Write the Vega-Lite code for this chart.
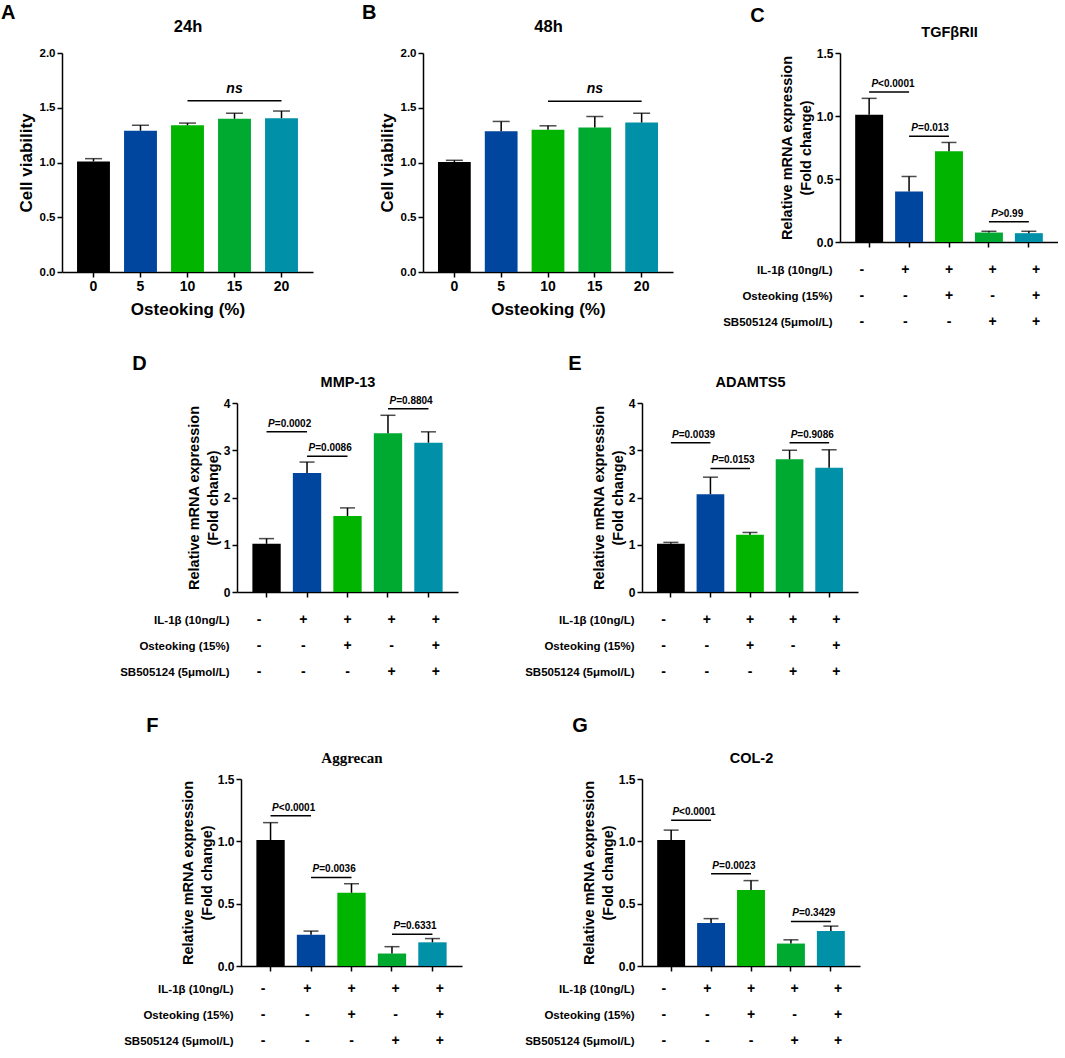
{
  "$schema": "https://vega.github.io/schema/vega-lite/v6.json",
  "background": "white",
  "padding": {"left": 1, "top": 2, "right": 0, "bottom": 0},
  "config": {
    "font": "Liberation Sans",
    "view": {"stroke": null},
    "axis": {"grid": false, "domainColor": "black", "domainWidth": 1.5, "tickColor": "black", "tickWidth": 1.5, "tickSize": 5, "labelColor": "black", "labelFont": "Liberation Sans", "labelFontWeight": "bold", "labelFontSize": 12, "titleFont": "Liberation Sans", "titleFontWeight": "bold", "titleColor": "black", "labelPadding": 2},
    "title": {"font": "Liberation Sans", "fontWeight": "bold", "color": "black", "fontSize": 20, "anchor": "start", "offset": 0}
  },
  "datasets": {
    "aBars": [{"i":0,"d":"0","v":1.01,"e":1.035},{"i":1,"d":"5","v":1.29,"e":1.34},{"i":2,"d":"10","v":1.34,"e":1.36},{"i":3,"d":"15","v":1.40,"e":1.45},{"i":4,"d":"20","v":1.405,"e":1.47}],
    "aSig": [{"from":2,"to":4,"mid":3,"v":1.565,"p":"ns"}],
    "bBars": [{"i":0,"d":"0","v":1.005,"e":1.02},{"i":1,"d":"5","v":1.285,"e":1.375},{"i":2,"d":"10","v":1.30,"e":1.335},{"i":3,"d":"15","v":1.32,"e":1.42},{"i":4,"d":"20","v":1.365,"e":1.45}],
    "bSig": [{"from":2,"to":4,"mid":3,"v":1.56,"p":"ns"}],
    "cBars": [{"i":0,"v":1.01,"e":1.14},{"i":1,"v":0.40,"e":0.52},{"i":2,"v":0.72,"e":0.79},{"i":3,"v":0.075,"e":0.085},{"i":4,"v":0.07,"e":0.085}],
    "cSig": [{"from":0,"to":1,"mid":0.5,"v":1.19,"p":"<0.0001"},{"from":1,"to":2,"mid":1.5,"v":0.84,"p":"=0.013"},{"from":3,"to":4,"mid":3.5,"v":0.16,"p":">0.99"}],
    "dBars": [{"i":0,"v":1.02,"e":1.13},{"i":1,"v":2.52,"e":2.75},{"i":2,"v":1.61,"e":1.78},{"i":3,"v":3.36,"e":3.74},{"i":4,"v":3.16,"e":3.39}],
    "dSig": [{"from":0,"to":1,"mid":0.5,"v":3.39,"p":"=0.0002"},{"from":1,"to":2,"mid":1.5,"v":2.875,"p":"=0.0086"},{"from":3,"to":4,"mid":3.5,"v":3.88,"p":"=0.8804"}],
    "eBars": [{"i":0,"v":1.02,"e":1.05},{"i":1,"v":2.07,"e":2.43},{"i":2,"v":1.21,"e":1.26},{"i":3,"v":2.81,"e":3.0},{"i":4,"v":2.63,"e":3.01}],
    "eSig": [{"from":0,"to":1,"mid":0.5,"v":3.16,"p":"=0.0039"},{"from":1,"to":2,"mid":1.5,"v":2.615,"p":"=0.0153"},{"from":3,"to":4,"mid":3.5,"v":3.16,"p":"=0.9086"}],
    "fBars": [{"i":0,"v":1.01,"e":1.15},{"i":1,"v":0.25,"e":0.28},{"i":2,"v":0.587,"e":0.66},{"i":3,"v":0.10,"e":0.155},{"i":4,"v":0.19,"e":0.22}],
    "fSig": [{"from":0,"to":1,"mid":0.5,"v":1.205,"p":"<0.0001"},{"from":1,"to":2,"mid":1.5,"v":0.71,"p":"=0.0036"},{"from":3,"to":4,"mid":3.5,"v":0.255,"p":"=0.6331"}],
    "gBars": [{"i":0,"v":1.01,"e":1.09},{"i":1,"v":0.345,"e":0.38},{"i":2,"v":0.61,"e":0.685},{"i":3,"v":0.18,"e":0.21},{"i":4,"v":0.28,"e":0.32}],
    "gSig": [{"from":0,"to":1,"mid":0.5,"v":1.17,"p":"<0.0001"},{"from":1,"to":2,"mid":1.5,"v":0.74,"p":"=0.0023"},{"from":3,"to":4,"mid":3.5,"v":0.357,"p":"=0.3429"}],
    "design": [
      {"f":"IL-1β (10ng/L)","i":0,"s":"-"},{"f":"IL-1β (10ng/L)","i":1,"s":"+"},{"f":"IL-1β (10ng/L)","i":2,"s":"+"},{"f":"IL-1β (10ng/L)","i":3,"s":"+"},{"f":"IL-1β (10ng/L)","i":4,"s":"+"},
      {"f":"Osteoking (15%)","i":0,"s":"-"},{"f":"Osteoking (15%)","i":1,"s":"-"},{"f":"Osteoking (15%)","i":2,"s":"+"},{"f":"Osteoking (15%)","i":3,"s":"-"},{"f":"Osteoking (15%)","i":4,"s":"+"},
      {"f":"SB505124 (5μmol/L)","i":0,"s":"-"},{"f":"SB505124 (5μmol/L)","i":1,"s":"-"},{"f":"SB505124 (5μmol/L)","i":2,"s":"-"},{"f":"SB505124 (5μmol/L)","i":3,"s":"+"},{"f":"SB505124 (5μmol/L)","i":4,"s":"+"}
    ]
  },
  "vconcat": [
    {
      "hconcat": [
        {
          "title": {"text": "A", "dx": -16, "offset": -4},
          "width": 251, "height": 219,
          "resolve": {"scale": {"x": "independent"}},
          "layer": [
            {
              "data": {"name": "aBars"},
              "layer": [
                {"mark": {"type": "bar"}, "encoding": {
                  "x": {"field": "d", "type": "nominal", "sort": null, "scale": {"paddingInner": 0.3, "paddingOuter": 0.32}, "axis": {"title": "Osteoking (%)", "titleFontSize": 17, "labelFontSize": 14, "labelAngle": 0, "labelPadding": 2, "titlePadding": 8}},
                  "y": {"field": "v", "type": "quantitative", "scale": {"domain": [0, 2], "nice": false}, "axis": {"title": "Cell viability", "titleFontSize": 17, "values": [0, 0.5, 1, 1.5, 2], "format": ".1f", "labelFontSize": 11.5, "titlePadding": 4}},
                  "color": {"field": "i", "type": "nominal", "scale": {"domain": [0,1,2,3,4], "range": ["#000000", "#00459E", "#00B400", "#00A92F", "#0090A8"]}, "legend": null}}},
                {"mark": {"type": "rule", "color": "black", "strokeWidth": 1.5}, "encoding": {"x": {"field": "d", "type": "nominal", "sort": null}, "y": {"field": "v", "type": "quantitative"}, "y2": {"field": "e"}}},
                {"mark": {"type": "tick", "orient": "horizontal", "color": "black", "size": 17, "thickness": 1.5}, "encoding": {"x": {"field": "d", "type": "nominal", "sort": null}, "y": {"field": "e", "type": "quantitative"}}}
              ]
            },
            {
              "data": {"name": "aSig"},
              "layer": [
                {"mark": {"type": "rule", "color": "black", "strokeWidth": 1.5}, "encoding": {
                  "x": {"field": "from", "type": "quantitative", "scale": {"domain": [-0.67, 4.67], "nice": false, "zero": false}, "axis": {"orient": "top", "title": "24h", "titleFontSize": 16.5, "domain": false, "ticks": false, "labels": false, "titlePadding": 18.5}},
                  "x2": {"field": "to"}, "y": {"field": "v", "type": "quantitative"}}},
                {"mark": {"type": "text", "fontSize": 14, "fontWeight": "bold", "fontStyle": "italic", "baseline": "alphabetic", "dy": -8, "color": "black"}, "encoding": {
                  "x": {"field": "mid", "type": "quantitative"}, "y": {"field": "v", "type": "quantitative"}, "text": {"field": "p"}}}
              ]
            }
          ]
        },
        {
          "title": {"text": "B", "dx": -16, "offset": -4},
          "width": 250, "height": 219,
          "resolve": {"scale": {"x": "independent"}},
          "layer": [
            {
              "data": {"name": "bBars"},
              "layer": [
                {"mark": {"type": "bar"}, "encoding": {
                  "x": {"field": "d", "type": "nominal", "sort": null, "scale": {"paddingInner": 0.3, "paddingOuter": 0.32}, "axis": {"title": "Osteoking (%)", "titleFontSize": 17, "labelFontSize": 14, "labelAngle": 0, "labelPadding": 2, "titlePadding": 8}},
                  "y": {"field": "v", "type": "quantitative", "scale": {"domain": [0, 2], "nice": false}, "axis": {"title": "Cell viability", "titleFontSize": 17, "values": [0, 0.5, 1, 1.5, 2], "format": ".1f", "labelFontSize": 11.5, "titlePadding": 4}},
                  "color": {"field": "i", "type": "nominal", "scale": {"domain": [0,1,2,3,4], "range": ["#000000", "#00459E", "#00B400", "#00A92F", "#0090A8"]}, "legend": null}}},
                {"mark": {"type": "rule", "color": "black", "strokeWidth": 1.5}, "encoding": {"x": {"field": "d", "type": "nominal", "sort": null}, "y": {"field": "v", "type": "quantitative"}, "y2": {"field": "e"}}},
                {"mark": {"type": "tick", "orient": "horizontal", "color": "black", "size": 17, "thickness": 1.5}, "encoding": {"x": {"field": "d", "type": "nominal", "sort": null}, "y": {"field": "e", "type": "quantitative"}}}
              ]
            },
            {
              "data": {"name": "bSig"},
              "layer": [
                {"mark": {"type": "rule", "color": "black", "strokeWidth": 1.5}, "encoding": {
                  "x": {"field": "from", "type": "quantitative", "scale": {"domain": [-0.67, 4.67], "nice": false, "zero": false}, "axis": {"orient": "top", "title": "48h", "titleFontSize": 16.5, "domain": false, "ticks": false, "labels": false, "titlePadding": 18.5}},
                  "x2": {"field": "to"}, "y": {"field": "v", "type": "quantitative"}}},
                {"mark": {"type": "text", "fontSize": 14, "fontWeight": "bold", "fontStyle": "italic", "baseline": "alphabetic", "dy": -8, "color": "black"}, "encoding": {
                  "x": {"field": "mid", "type": "quantitative"}, "y": {"field": "v", "type": "quantitative"}, "text": {"field": "p"}}}
              ]
            }
          ]
        },
        {
          "spacing": 9,
          "vconcat": [
            {
              "title": {"text": "C", "dx": -29, "offset": -2},
              "width": 218, "height": 189,
              "resolve": {"scale": {"x": "independent"}},
              "layer": [
                {
                  "data": {"name": "cBars"},
                  "layer": [
                    {"mark": {"type": "bar"}, "encoding": {
                      "x": {"field": "i", "type": "nominal", "scale": {"paddingInner": 0.3, "paddingOuter": 0.38}, "axis": {"title": null, "labels": false}},
                      "y": {"field": "v", "type": "quantitative", "scale": {"domain": [0, 1.5], "nice": false}, "axis": {"title": ["Relative mRNA expression", "(Fold change)"], "titleFontSize": 14.5, "titleLineHeight": 19, "values": [0, 0.5, 1, 1.5], "format": ".1f", "titlePadding": 3}},
                      "color": {"field": "i", "type": "nominal", "scale": {"domain": [0,1,2,3,4], "range": ["#000000", "#00459E", "#00B400", "#00A92F", "#0090A8"]}, "legend": null}}},
                    {"mark": {"type": "rule", "color": "black", "strokeWidth": 1.5}, "encoding": {"x": {"field": "i", "type": "nominal"}, "y": {"field": "v", "type": "quantitative"}, "y2": {"field": "e"}}},
                    {"mark": {"type": "tick", "orient": "horizontal", "color": "black", "size": 15, "thickness": 1.5}, "encoding": {"x": {"field": "i", "type": "nominal"}, "y": {"field": "e", "type": "quantitative"}}}
                  ]
                },
                {
                  "data": {"name": "cSig"},
                  "layer": [
                    {"mark": {"type": "rule", "color": "black", "strokeWidth": 1.5}, "encoding": {
                      "x": {"field": "from", "type": "quantitative", "scale": {"domain": [-0.73, 4.73], "nice": false, "zero": false}, "axis": {"orient": "top", "title": "TGFβRII", "titleFontSize": 14.5, "domain": false, "ticks": false, "labels": false, "titlePadding": 14}},
                      "x2": {"field": "to"}, "y": {"field": "v", "type": "quantitative"}}},
                    {"mark": {"type": "text", "text": "P", "fontSize": 10, "fontWeight": "bold", "fontStyle": "italic", "align": "right", "baseline": "alphabetic", "dy": -5, "dx": -11, "color": "black"}, "encoding": {
                      "x": {"field": "mid", "type": "quantitative"}, "y": {"field": "v", "type": "quantitative"}}},
                    {"mark": {"type": "text", "fontSize": 10, "fontWeight": "bold", "align": "left", "baseline": "alphabetic", "dy": -5, "dx": -11, "color": "black"}, "encoding": {
                      "x": {"field": "mid", "type": "quantitative"}, "y": {"field": "v", "type": "quantitative"}, "text": {"field": "p"}}}
                  ]
                }
              ]
            },
            {
              "width": 218, "height": 78,
              "data": {"name": "design"},
              "mark": {"type": "text", "fontSize": 14, "fontWeight": "bold", "color": "black", "baseline": "middle"},
              "encoding": {
                "x": {"field": "i", "type": "nominal", "scale": {"paddingInner": 0.3, "paddingOuter": 0.38}, "axis": null},
                "y": {"field": "f", "type": "nominal", "sort": null, "scale": {"type": "point", "padding": 0.5}, "axis": {"title": null, "domain": false, "ticks": false, "tickSize": 0, "labelPadding": 8, "labelFontSize": 11.5}},
                "text": {"field": "s"}
              }
            }
          ]
        }
      ],
      "spacing": 49
    },
    {
      "spacing": 31,
      "vconcat": [
        {
          "spacing": 10,
          "hconcat": [
            {"width": 47, "height": 1, "data": {"values": []}, "mark": "point"},
            {
              "spacing": 66,
              "hconcat": [
                {
                  "spacing": 9,
                  "vconcat": [
                    {
                      "title": {"text": "D", "dx": -54, "dy": 4},
                      "width": 221, "height": 189,
                      "resolve": {"scale": {"x": "independent"}},
                      "layer": [
                        {
                          "data": {"name": "dBars"},
                          "layer": [
                            {"mark": {"type": "bar"}, "encoding": {
                              "x": {"field": "i", "type": "nominal", "scale": {"paddingInner": 0.3, "paddingOuter": 0.38}, "axis": {"title": null, "labels": false}},
                              "y": {"field": "v", "type": "quantitative", "scale": {"domain": [0, 4], "nice": false}, "axis": {"title": ["Relative mRNA expression", "(Fold change)"], "titleFontSize": 14.5, "titleLineHeight": 19, "values": [0, 1, 2, 3, 4], "format": "d", "titlePadding": 3}},
                              "color": {"field": "i", "type": "nominal", "scale": {"domain": [0,1,2,3,4], "range": ["#000000", "#00459E", "#00B400", "#00A92F", "#0090A8"]}, "legend": null}}},
                            {"mark": {"type": "rule", "color": "black", "strokeWidth": 1.5}, "encoding": {"x": {"field": "i", "type": "nominal"}, "y": {"field": "v", "type": "quantitative"}, "y2": {"field": "e"}}},
                            {"mark": {"type": "tick", "orient": "horizontal", "color": "black", "size": 15, "thickness": 1.5}, "encoding": {"x": {"field": "i", "type": "nominal"}, "y": {"field": "e", "type": "quantitative"}}}
                          ]
                        },
                        {
                          "data": {"name": "dSig"},
                          "layer": [
                            {"mark": {"type": "rule", "color": "black", "strokeWidth": 1.5}, "encoding": {
                              "x": {"field": "from", "type": "quantitative", "scale": {"domain": [-0.73, 4.73], "nice": false, "zero": false}, "axis": {"orient": "top", "title": "MMP-13", "titleFontSize": 14.5, "domain": false, "ticks": false, "labels": false, "titlePadding": 14}},
                              "x2": {"field": "to"}, "y": {"field": "v", "type": "quantitative"}}},
                            {"mark": {"type": "text", "text": "P", "fontSize": 10, "fontWeight": "bold", "fontStyle": "italic", "align": "right", "baseline": "alphabetic", "dy": -5, "dx": -12, "color": "black"}, "encoding": {
                              "x": {"field": "mid", "type": "quantitative"}, "y": {"field": "v", "type": "quantitative"}}},
                            {"mark": {"type": "text", "fontSize": 10, "fontWeight": "bold", "align": "left", "baseline": "alphabetic", "dy": -5, "dx": -12, "color": "black"}, "encoding": {
                              "x": {"field": "mid", "type": "quantitative"}, "y": {"field": "v", "type": "quantitative"}, "text": {"field": "p"}}}
                          ]
                        }
                      ]
                    },
                    {
                      "width": 221, "height": 78,
                      "data": {"name": "design"},
                      "mark": {"type": "text", "fontSize": 14, "fontWeight": "bold", "color": "black", "baseline": "middle"},
                      "encoding": {
                        "x": {"field": "i", "type": "nominal", "scale": {"paddingInner": 0.3, "paddingOuter": 0.38}, "axis": null},
                        "y": {"field": "f", "type": "nominal", "sort": null, "scale": {"type": "point", "padding": 0.5}, "axis": {"title": null, "domain": false, "ticks": false, "tickSize": 0, "labelPadding": 8, "labelFontSize": 11.5}},
                        "text": {"field": "s"}
                      }
                    }
                  ]
                },
                {
                  "spacing": 9,
                  "vconcat": [
                    {
                      "title": {"text": "E", "dx": -23, "dy": 4},
                      "width": 216, "height": 189,
                      "resolve": {"scale": {"x": "independent"}},
                      "layer": [
                        {
                          "data": {"name": "eBars"},
                          "layer": [
                            {"mark": {"type": "bar"}, "encoding": {
                              "x": {"field": "i", "type": "nominal", "scale": {"paddingInner": 0.3, "paddingOuter": 0.38}, "axis": {"title": null, "labels": false}},
                              "y": {"field": "v", "type": "quantitative", "scale": {"domain": [0, 4], "nice": false}, "axis": {"title": ["Relative mRNA expression", "(Fold change)"], "titleFontSize": 14.5, "titleLineHeight": 19, "values": [0, 1, 2, 3, 4], "format": "d", "titlePadding": 3}},
                              "color": {"field": "i", "type": "nominal", "scale": {"domain": [0,1,2,3,4], "range": ["#000000", "#00459E", "#00B400", "#00A92F", "#0090A8"]}, "legend": null}}},
                            {"mark": {"type": "rule", "color": "black", "strokeWidth": 1.5}, "encoding": {"x": {"field": "i", "type": "nominal"}, "y": {"field": "v", "type": "quantitative"}, "y2": {"field": "e"}}},
                            {"mark": {"type": "tick", "orient": "horizontal", "color": "black", "size": 15, "thickness": 1.5}, "encoding": {"x": {"field": "i", "type": "nominal"}, "y": {"field": "e", "type": "quantitative"}}}
                          ]
                        },
                        {
                          "data": {"name": "eSig"},
                          "layer": [
                            {"mark": {"type": "rule", "color": "black", "strokeWidth": 1.5}, "encoding": {
                              "x": {"field": "from", "type": "quantitative", "scale": {"domain": [-0.73, 4.73], "nice": false, "zero": false}, "axis": {"orient": "top", "title": "ADAMTS5", "titleFontSize": 14.5, "domain": false, "ticks": false, "labels": false, "titlePadding": 14}},
                              "x2": {"field": "to"}, "y": {"field": "v", "type": "quantitative"}}},
                            {"mark": {"type": "text", "text": "P", "fontSize": 10, "fontWeight": "bold", "fontStyle": "italic", "align": "right", "baseline": "alphabetic", "dy": -5, "dx": -12, "color": "black"}, "encoding": {
                              "x": {"field": "mid", "type": "quantitative"}, "y": {"field": "v", "type": "quantitative"}}},
                            {"mark": {"type": "text", "fontSize": 10, "fontWeight": "bold", "align": "left", "baseline": "alphabetic", "dy": -5, "dx": -12, "color": "black"}, "encoding": {
                              "x": {"field": "mid", "type": "quantitative"}, "y": {"field": "v", "type": "quantitative"}, "text": {"field": "p"}}}
                          ]
                        }
                      ]
                    },
                    {
                      "width": 216, "height": 78,
                      "data": {"name": "design"},
                      "mark": {"type": "text", "fontSize": 14, "fontWeight": "bold", "color": "black", "baseline": "middle"},
                      "encoding": {
                        "x": {"field": "i", "type": "nominal", "scale": {"paddingInner": 0.3, "paddingOuter": 0.38}, "axis": null},
                        "y": {"field": "f", "type": "nominal", "sort": null, "scale": {"type": "point", "padding": 0.5}, "axis": {"title": null, "domain": false, "ticks": false, "tickSize": 0, "labelPadding": 8, "labelFontSize": 11.5}},
                        "text": {"field": "s"}
                      }
                    }
                  ]
                }
              ]
            }
          ]
        },
        {
          "spacing": 10,
          "hconcat": [
            {"width": 51, "height": 1, "data": {"values": []}, "mark": "point"},
            {
              "spacing": 62,
              "hconcat": [
                {
                  "spacing": 4,
                  "vconcat": [
                    {
                      "title": {"text": "F", "dx": -34, "dy": -10},
                      "width": 221, "height": 187,
                      "resolve": {"scale": {"x": "independent"}},
                      "layer": [
                        {
                          "data": {"name": "fBars"},
                          "layer": [
                            {"mark": {"type": "bar"}, "encoding": {
                              "x": {"field": "i", "type": "nominal", "scale": {"paddingInner": 0.3, "paddingOuter": 0.38}, "axis": {"title": null, "labels": false}},
                              "y": {"field": "v", "type": "quantitative", "scale": {"domain": [0, 1.5], "nice": false}, "axis": {"title": ["Relative mRNA expression", "(Fold change)"], "titleFontSize": 14.5, "titleLineHeight": 19, "values": [0, 0.5, 1, 1.5], "format": ".1f", "titlePadding": 3}},
                              "color": {"field": "i", "type": "nominal", "scale": {"domain": [0,1,2,3,4], "range": ["#000000", "#00459E", "#00B400", "#00A92F", "#0090A8"]}, "legend": null}}},
                            {"mark": {"type": "rule", "color": "black", "strokeWidth": 1.5}, "encoding": {"x": {"field": "i", "type": "nominal"}, "y": {"field": "v", "type": "quantitative"}, "y2": {"field": "e"}}},
                            {"mark": {"type": "tick", "orient": "horizontal", "color": "black", "size": 15, "thickness": 1.5}, "encoding": {"x": {"field": "i", "type": "nominal"}, "y": {"field": "e", "type": "quantitative"}}}
                          ]
                        },
                        {
                          "data": {"name": "fSig"},
                          "layer": [
                            {"mark": {"type": "rule", "color": "black", "strokeWidth": 1.5}, "encoding": {
                              "x": {"field": "from", "type": "quantitative", "scale": {"domain": [-0.73, 4.73], "nice": false, "zero": false}, "axis": {"orient": "top", "title": "Aggrecan", "titleFont": "Liberation Serif", "titleFontSize": 15, "domain": false, "ticks": false, "labels": false, "titlePadding": 14}},
                              "x2": {"field": "to"}, "y": {"field": "v", "type": "quantitative"}}},
                            {"mark": {"type": "text", "text": "P", "fontSize": 10, "fontWeight": "bold", "fontStyle": "italic", "align": "right", "baseline": "alphabetic", "dy": -5, "dx": -12, "color": "black"}, "encoding": {
                              "x": {"field": "mid", "type": "quantitative"}, "y": {"field": "v", "type": "quantitative"}}},
                            {"mark": {"type": "text", "fontSize": 10, "fontWeight": "bold", "align": "left", "baseline": "alphabetic", "dy": -5, "dx": -12, "color": "black"}, "encoding": {
                              "x": {"field": "mid", "type": "quantitative"}, "y": {"field": "v", "type": "quantitative"}, "text": {"field": "p"}}}
                          ]
                        }
                      ]
                    },
                    {
                      "width": 221, "height": 78,
                      "data": {"name": "design"},
                      "mark": {"type": "text", "fontSize": 14, "fontWeight": "bold", "color": "black", "baseline": "middle"},
                      "encoding": {
                        "x": {"field": "i", "type": "nominal", "scale": {"paddingInner": 0.3, "paddingOuter": 0.38}, "axis": null},
                        "y": {"field": "f", "type": "nominal", "sort": null, "scale": {"type": "point", "padding": 0.5}, "axis": {"title": null, "domain": false, "ticks": false, "tickSize": 0, "labelPadding": 8, "labelFontSize": 11.5}},
                        "text": {"field": "s"}
                      }
                    }
                  ]
                },
                {
                  "spacing": 4,
                  "vconcat": [
                    {
                      "title": {"text": "G", "dx": -9, "dy": -10},
                      "width": 218, "height": 187,
                      "resolve": {"scale": {"x": "independent"}},
                      "layer": [
                        {
                          "data": {"name": "gBars"},
                          "layer": [
                            {"mark": {"type": "bar"}, "encoding": {
                              "x": {"field": "i", "type": "nominal", "scale": {"paddingInner": 0.3, "paddingOuter": 0.38}, "axis": {"title": null, "labels": false}},
                              "y": {"field": "v", "type": "quantitative", "scale": {"domain": [0, 1.5], "nice": false}, "axis": {"title": ["Relative mRNA expression", "(Fold change)"], "titleFontSize": 14.5, "titleLineHeight": 19, "values": [0, 0.5, 1, 1.5], "format": ".1f", "titlePadding": 3}},
                              "color": {"field": "i", "type": "nominal", "scale": {"domain": [0,1,2,3,4], "range": ["#000000", "#00459E", "#00B400", "#00A92F", "#0090A8"]}, "legend": null}}},
                            {"mark": {"type": "rule", "color": "black", "strokeWidth": 1.5}, "encoding": {"x": {"field": "i", "type": "nominal"}, "y": {"field": "v", "type": "quantitative"}, "y2": {"field": "e"}}},
                            {"mark": {"type": "tick", "orient": "horizontal", "color": "black", "size": 15, "thickness": 1.5}, "encoding": {"x": {"field": "i", "type": "nominal"}, "y": {"field": "e", "type": "quantitative"}}}
                          ]
                        },
                        {
                          "data": {"name": "gSig"},
                          "layer": [
                            {"mark": {"type": "rule", "color": "black", "strokeWidth": 1.5}, "encoding": {
                              "x": {"field": "from", "type": "quantitative", "scale": {"domain": [-0.73, 4.73], "nice": false, "zero": false}, "axis": {"orient": "top", "title": "COL-2", "titleFontSize": 14.5, "domain": false, "ticks": false, "labels": false, "titlePadding": 14}},
                              "x2": {"field": "to"}, "y": {"field": "v", "type": "quantitative"}}},
                            {"mark": {"type": "text", "text": "P", "fontSize": 10, "fontWeight": "bold", "fontStyle": "italic", "align": "right", "baseline": "alphabetic", "dy": -5, "dx": -12, "color": "black"}, "encoding": {
                              "x": {"field": "mid", "type": "quantitative"}, "y": {"field": "v", "type": "quantitative"}}},
                            {"mark": {"type": "text", "fontSize": 10, "fontWeight": "bold", "align": "left", "baseline": "alphabetic", "dy": -5, "dx": -12, "color": "black"}, "encoding": {
                              "x": {"field": "mid", "type": "quantitative"}, "y": {"field": "v", "type": "quantitative"}, "text": {"field": "p"}}}
                          ]
                        }
                      ]
                    },
                    {
                      "width": 218, "height": 78,
                      "data": {"name": "design"},
                      "mark": {"type": "text", "fontSize": 14, "fontWeight": "bold", "color": "black", "baseline": "middle"},
                      "encoding": {
                        "x": {"field": "i", "type": "nominal", "scale": {"paddingInner": 0.3, "paddingOuter": 0.38}, "axis": null},
                        "y": {"field": "f", "type": "nominal", "sort": null, "scale": {"type": "point", "padding": 0.5}, "axis": {"title": null, "domain": false, "ticks": false, "tickSize": 0, "labelPadding": 8, "labelFontSize": 11.5}},
                        "text": {"field": "s"}
                      }
                    }
                  ]
                }
              ]
            }
          ]
        }
      ]
    }
  ],
  "spacing": 19
}
